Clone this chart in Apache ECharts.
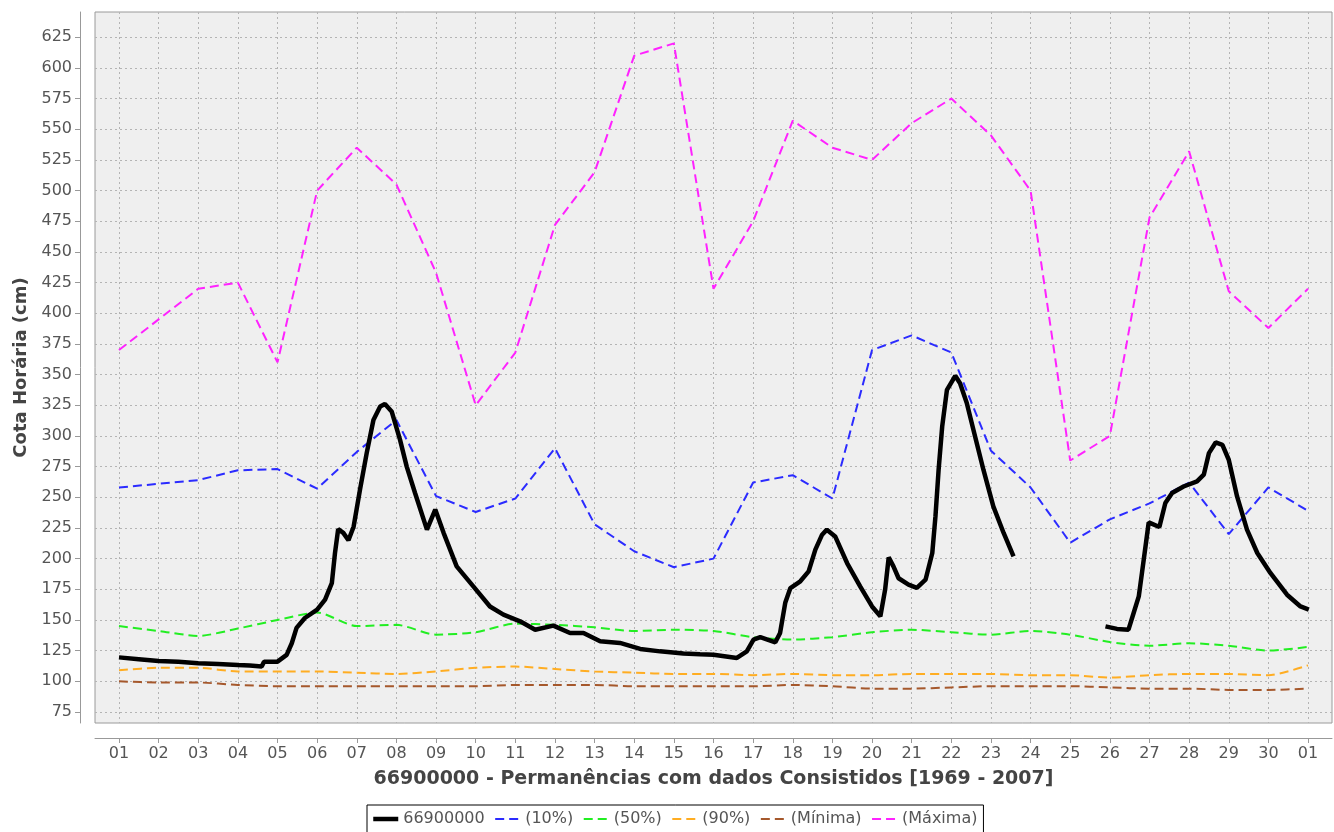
<!DOCTYPE html>
<html>
<head>
<meta charset="utf-8">
<script src="https://cdn.jsdelivr.net/npm/echarts@6/dist/echarts.min.js"></script>
<style>html,body{margin:0;padding:0;background:#fff;}#c{width:1334px;height:832px;}</style>
</head>
<body>
<div id="c"></div>
<script>
const dayLabels = ['01','02','03','04','05','06','07','08','09','10','11','12','13','14','15','16','17','18','19','20','21','22','23','24','25','26','27','28','29','30','01'];
const yTicks = [75,100,125,150,175,200,225,250,275,300,325,350,375,400,425,450,475,500,525,550,575,600,625];

const p10 = [258,261,264,272,273,257,287,313,251,238,249,290,228,206,193,200,262,268,249,370,382,368,288,258,213,232,245,262,220,258,239];
const p50 = [145,141,137,143,150,156,145,146,138,140,147,146,144,141,142,141,136,134,136,140,142,140,138,141,138,132,129,131,129,125,128];
const p90 = [109,111,111,108,108,108,107,106,108,111,112,110,108,107,106,106,105,106,105,105,106,106,106,105,105,103,105,106,106,105,113];
const pMin = [100,99,99,97,96,96,96,96,96,96,97,97,97,96,96,96,96,97,96,94,94,95,96,96,96,95,94,94,93,93,94];
const pMax = [370,395,420,425,360,500,535,505,433,325,368,472,515,610,620,420,475,557,535,525,555,575,545,500,280,300,478,532,418,388,420];

// station 66900000 (day offset from first "01", level in cm); null = gap in record
const stationDays = [0,0.5,1,1.5,2,2.5,3,3.3,3.6,3.66,4,4.23,4.36,4.48,4.69,5,5.2,5.37,5.45,5.53,5.66,5.79,5.92,6.08,6.25,6.42,6.59,6.71,6.88,7.09,7.26,7.47,7.77,7.98,8.19,8.52,8.94,9.36,9.7,10.12,10.5,10.96,11.38,11.72,12.14,12.64,13.15,13.65,14.24,14.66,15,15.59,15.84,16.01,16.18,16.56,16.68,16.81,16.94,17.19,17.4,17.57,17.74,17.86,18.07,18.37,18.7,19,19.21,19.33,19.42,19.54,19.67,19.92,20.13,20.35,20.52,20.6,20.68,20.77,20.89,21.1,21.22,21.39,21.6,21.81,22.06,22.32,22.57,23.7,24.89,25.18,25.47,25.6,25.73,25.81,25.9,25.98,26.25,26.4,26.57,26.86,27.2,27.37,27.5,27.67,27.84,28.0,28.21,28.46,28.72,29.05,29.47,29.81,30.02];
const stationValues = [119.5,118,116.5,116,114.8,114,113.2,112.8,112,116,116,121.5,131,143.5,151.6,158.4,166.6,180,204.6,224,221,215,226,256,286,313,324,326,320,297,275,253.5,223.6,240,221,193.7,177.4,161,154.3,148.9,142,145.4,139.4,139.4,132.6,131.3,126.4,124.4,122.6,122,121.7,119,124.4,134,136,131.8,139.4,164,176,181.5,189.6,207.3,219.5,223.6,218.1,196.4,177.4,161,153,174.7,201,193.7,184,178.8,176.1,182.8,204.6,234.4,272.5,307.7,337.6,349,343,326.8,299.6,272.5,242.6,220.9,201.8,null,144.8,142.7,142.1,155.7,169.2,188.3,210,229.5,225.8,245.3,253.5,258.8,262.9,268.4,286,294.7,292.8,280.6,250.7,223.6,204.6,188.3,170.6,161,158.4];

const dayIdx = dayLabels.map((_, i) => i);
const pairs = arr => dayIdx.map(i => [i, arr[i]]);
const stationData = stationDays.map((d, i) => [d, stationValues[i]]);

const FONT = 'DejaVu Sans';
const chart = echarts.init(document.getElementById('c'), null, {renderer: 'canvas'});
const dashed = (name, color, arr, smooth) => ({
  name, type: 'line', data: pairs(arr), showSymbol: false, symbol: 'none', smooth: smooth || false,
  lineStyle: {color, width: 2, type: [9, 5]}, itemStyle: {color}, z: 2, silent: true
});
chart.setOption({
  animation: false,
  backgroundColor: '#ffffff',
  textStyle: {fontFamily: FONT},
  grid: {left: 95, top: 12, right: 2, bottom: 109, show: true, backgroundColor: '#efefef', borderColor: '#9a9a9a', borderWidth: 1, outerBoundsMode: 'none', containLabel: false},
  xAxis: {
    type: 'value', min: -0.605, max: 30.605, offset: 15,
    name: '66900000 - Permanências com dados Consistidos [1969 - 2007]',
    nameLocation: 'middle', nameGap: 32,
    nameTextStyle: {fontFamily: FONT, fontSize: 19, fontWeight: 'bold', color: '#444'},
    axisLine: {show: true, onZero: false, lineStyle: {color: '#999', width: 1}},
    axisTick: {show: true, length: 5, lineStyle: {color: '#999'}, customValues: dayIdx},
    axisLabel: {customValues: dayIdx, formatter: v => dayLabels[Math.round(v)] || '', fontFamily: FONT, fontSize: 16, color: '#555', margin: 8},
    splitLine: {show: true, lineStyle: {color: '#b4b4b4', type: [2, 3], width: 1}}
  },
  yAxis: {
    type: 'value', min: 66, max: 645.6, offset: 15,
    name: 'Cota Horária (cm)', nameLocation: 'middle', nameGap: 50, nameRotate: 90,
    nameTextStyle: {fontFamily: FONT, fontSize: 18, fontWeight: 'bold', color: '#444'},
    axisLine: {show: true, onZero: false, lineStyle: {color: '#999', width: 1}},
    axisTick: {show: true, length: 5, lineStyle: {color: '#999'}, customValues: yTicks},
    axisLabel: {customValues: yTicks, fontFamily: FONT, fontSize: 16, color: '#555', margin: 8},
    splitLine: {show: true, lineStyle: {color: '#b4b4b4', type: [2, 3], width: 1}}
  },
  legend: {
    left: 367, top: 805, padding: [6, 6, 6, 4], itemGap: 9.5, itemWidth: 25, itemHeight: 12,
    borderColor: '#000', borderWidth: 1, backgroundColor: '#fff',
    itemStyle: {color: 'rgba(0,0,0,0)', borderWidth: 0, borderColor: 'rgba(0,0,0,0)'},
    textStyle: {fontFamily: FONT, fontSize: 16, color: '#555'},
    data: [
      {name: '66900000', lineStyle: {width: 4.5, color: '#000'}},
      '(10%)', '(50%)', '(90%)', '(Mínima)', '(Máxima)'
    ]
  },
  series: [
    dashed('(10%)', '#2b2bff', p10),
    dashed('(50%)', '#22ee22', p50, 0.25),
    dashed('(90%)', '#ffad22', p90, 0.25),
    dashed('(Mínima)', '#a5582c', pMin, 0.25),
    dashed('(Máxima)', '#ff22ff', pMax),
    {name: '66900000', type: 'line', data: stationData, showSymbol: false, symbol: 'none', connectNulls: false,
     lineStyle: {color: '#000', width: 4.5}, itemStyle: {color: '#000'}, z: 3, silent: true}
  ]
});
</script>
</body>
</html>
